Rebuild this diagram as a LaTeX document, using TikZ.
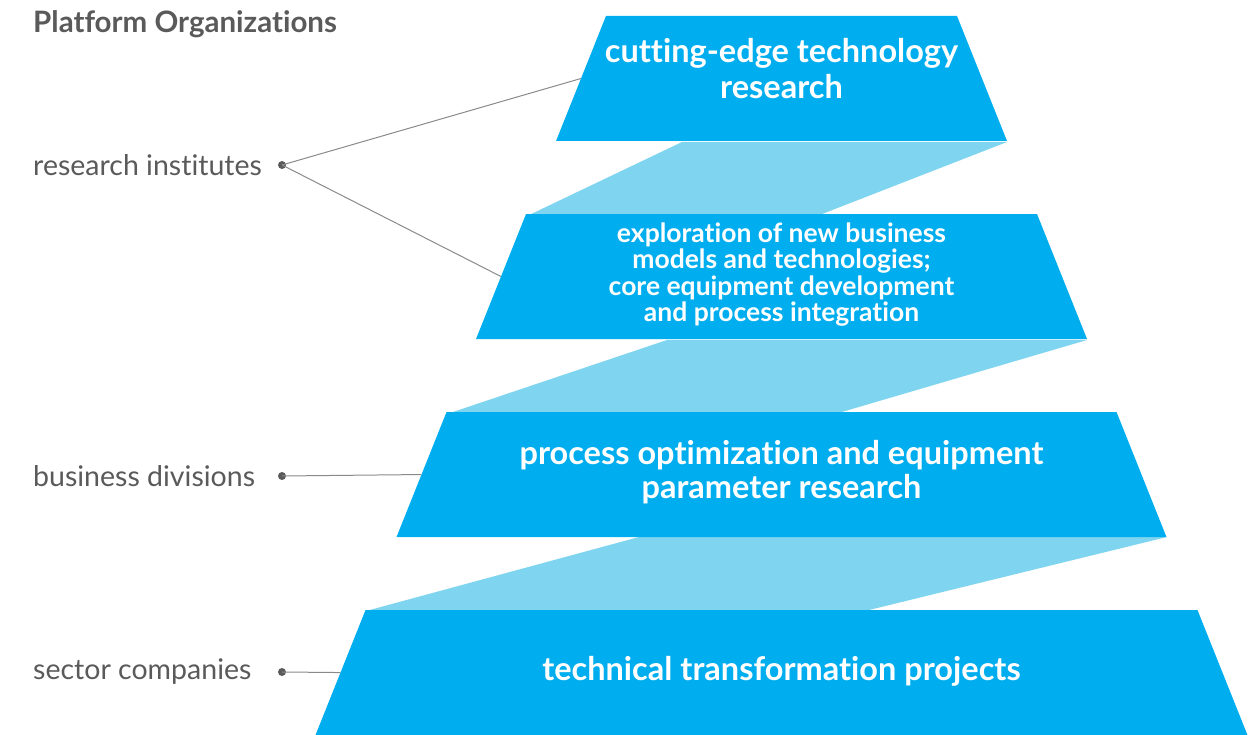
\documentclass[tikz,border=0pt]{standalone}
\usepackage{fontspec}
\setmainfont{Lato}[Ligatures=NoCommon]
\usetikzlibrary{positioning,shapes.geometric}
\definecolor{stepblue}{HTML}{00AEEF}
\definecolor{bandblue}{HTML}{7FD4EF}
\definecolor{labelgray}{HTML}{5A5A5A}
\definecolor{linegray}{HTML}{8A8A8A}
\tikzstyle{level} = [trapezium, trapezium angle=68.2, trapezium stretches body, text height=125pt, text depth=0pt, fill=stepblue, inner sep=0pt, outer sep=0pt]
\tikzstyle{leveltext} = [text=white, align=center, inner sep=0pt]
\tikzstyle{org} = [text=labelgray, anchor=west, inner sep=0pt, font=\fontsize{28.5}{34}\selectfont]
\tikzstyle{dot} = [circle, fill=labelgray, inner sep=0pt, minimum size=8pt]
\tikzstyle{link} = [draw=linegray, line width=1pt]
\tikzstyle{band} = [fill=bandblue]

\begin{document}
\begin{tikzpicture}[x=1pt, y=-1pt, node distance=73pt]
\useasboundingbox (0,0) rectangle (1248,735);

% light bands behind the levels
\fill[band] (682,142) -- (1007,142) -- (817,216) -- (527,216) -- cycle;
\fill[band] (667,340) -- (1087,340) -- (835,414) -- (447,414) -- cycle;
\fill[band] (639,537) -- (1167,537) -- (865,611) -- (366,611) -- cycle;

% levels
\node (lvl1) [level, minimum width=451pt] at (781.5,78.5) {};
\node (lvl2) [level, minimum width=611pt, below=of lvl1] {};
\node (lvl3) [level, minimum width=770pt, below=of lvl2] {};
\node (lvl4) [level, minimum width=932pt, below=of lvl3] {};

\node (lvl1txt) [leveltext, font=\bfseries\fontsize{32.5}{36}\selectfont] at ([yshift=10pt]lvl1.center) {cutting-edge technology\\research};
\node (lvl2txt) [leveltext, font=\bfseries\fontsize{26.5}{26.5}\selectfont] at ([yshift=2pt]lvl2.center) {exploration of new business\\models and technologies;\\core equipment development\\and process integration};
\node (lvl3txt) [leveltext, font=\bfseries\fontsize{32.5}{34}\selectfont] at ([yshift=2pt]lvl3.center) {process optimization and equipment\\parameter research};
\node (lvl4txt) [leveltext, font=\bfseries\fontsize{32.5}{34}\selectfont] at ([yshift=1pt]lvl4.center) {technical transformation projects};

% organizations
\node (title) [org, font=\bfseries\fontsize{29.5}{34}\selectfont] at (33,24) {Platform Organizations};
\node (inst) [org] at (33,165) {research institutes};
\node (div) [org] at (33,476) {business divisions};
\node (comp) [org] at (33,672) {sector companies};

\node (d1) [dot] at (282,165) {};
\node (d2) [dot] at (282,476) {};
\node (d3) [dot] at (282,672) {};

\draw[link] (d1.center) -- (lvl1.west);
\draw[link] (d1.center) -- (lvl2.west);
\draw[link] (d2.center) -- (lvl3.west);
\draw[link] (d3.center) -- (lvl4.west);
\end{tikzpicture}
\end{document}
